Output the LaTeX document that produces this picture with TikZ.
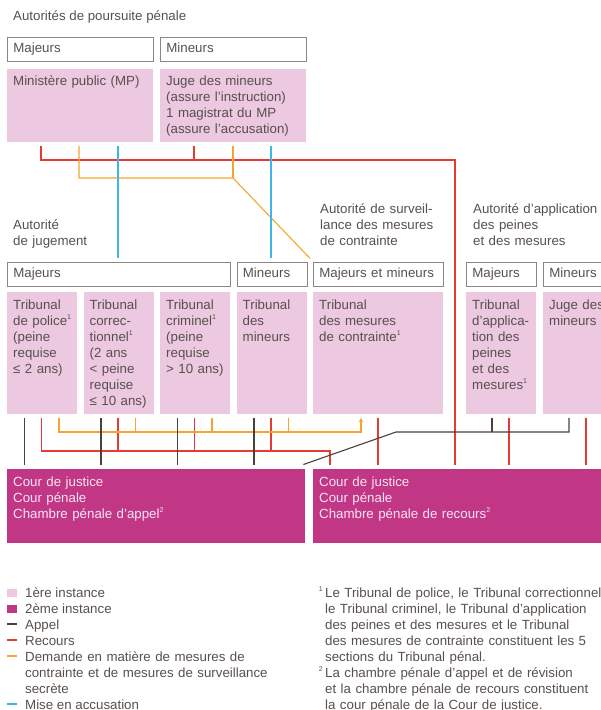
\documentclass[tikz,border=0pt]{standalone}
\usepackage{fontspec}
\setmainfont{Liberation Sans}
\usetikzlibrary{arrows.meta}

\definecolor{txtgrey}{RGB}{88,80,76}
\definecolor{boxgrey}{RGB}{140,134,130}
\definecolor{pinklight}{RGB}{237,200,225}
\definecolor{pinkdark}{RGB}{193,55,134}
\definecolor{pinktxt}{RGB}{250,228,242}
\definecolor{appelc}{RGB}{75,65,58}
\definecolor{recoursc}{RGB}{230,58,52}
\definecolor{demandec}{RGB}{245,165,45}
\definecolor{accusc}{RGB}{62,182,230}

\newcommand{\fnmark}[1]{\textsuperscript{\fontsize{7}{7}\selectfont #1}}

\begin{document}
\begin{tikzpicture}[x=1pt, y=-1pt,
    every node/.style={font=\fontsize{13.3}{16}\selectfont, text=txtgrey,
      inner sep=0pt, anchor=north west, text height=11pt, align=left},
    hdr/.style={draw=boxgrey, line width=0.8pt, inner xsep=6pt,
      inner ysep=5pt, text depth=3pt, text width=#1},
    inst1/.style={fill=pinklight, inner xsep=6pt, inner ysep=6pt, text width=#1},
    inst2/.style={fill=pinkdark, text=pinktxt, inner xsep=6pt, inner ysep=6pt,
      text width=#1, text depth=50.5pt},
    appel/.style={draw=appelc, line width=1.1pt},
    recours/.style={draw=recoursc, line width=1.1pt},
    demande/.style={draw=demandec, line width=1.1pt},
    accus/.style={draw=accusc, line width=1.2pt}
  ]
  \useasboundingbox (0,0) rectangle (601,710);
  \clip (0,0) rectangle (601,710);

  % autorites de poursuite
  \node (tPours) at (13,9.5) {Autorités de poursuite pénale};
  \node[hdr=134pt] (pMaj) at (7,36.5) {Majeurs};
  \node[hdr=134pt] (pMin) at (160,36.5) {Mineurs};
  \node[inst1=134pt, text depth=50.5pt] (mp) at (7,68.3) {Ministère public (MP)};
  \node[inst1=134pt, text depth=50.5pt] (jm) at (160,68.3)
    {Juge des mineurs\\(assure l'instruction)\\1 magistrat du MP\\(assure l'accusation)};

  % autorites de jugement, surveillance, application
  \node[text width=120pt] (tJug) at (13,218.5) {Autorité\\de jugement};
  \node[text width=130pt] (tSurv) at (320,202) {Autorité de surveil-\\lance des mesures\\de contrainte};
  \node[text width=140pt] (tAppl) at (473,202) {Autorité d'application\\des peines\\et des mesures};

  \node[hdr=211pt] (jMaj) at (7,261.5) {Majeurs};
  \node[hdr=58pt] (jMin) at (236.5,261.5) {Mineurs};
  \node[hdr=118pt] (sMM) at (313,261.5) {Majeurs et mineurs};
  \node[hdr=58pt] (aMaj) at (466,261.5) {Majeurs};
  \node[hdr=58pt] (aMin) at (543,261.5) {Mineurs};

  \node[inst1=58pt, text depth=98.5pt] (tpol) at (7,292)
    {Tribunal\\de~police\fnmark{1}\\(peine\\requise\\≤ 2 ans)};
  \node[inst1=58pt, text depth=98.5pt] (tcor) at (83.5,292)
    {Tribunal\\correc-\\tionnel\fnmark{1}\\(2 ans\\< peine\\requise\\≤ 10 ans)};
  \node[inst1=58pt, text depth=98.5pt] (tcrim) at (160,292)
    {Tribunal\\criminel\fnmark{1}\\(peine\\requise\\> 10 ans)};
  \node[inst1=58pt, text depth=98.5pt] (tmin) at (236.5,292)
    {Tribunal\\des\\mineurs};
  \node[inst1=118pt, text depth=98.5pt] (tmc) at (313,292)
    {Tribunal\\des mesures\\de contrainte\fnmark{1}};
  \node[inst1=58pt, text depth=98.5pt] (tapem) at (466,292)
    {Tribunal\\d'applica-\\tion des\\peines\\et des\\mesures\fnmark{1}};
  \node[inst1=58pt, text depth=98.5pt] (jmin2) at (543,292)
    {Juge~des\\mineurs};

  % 2eme instance
  \node[inst2=286pt] (cpa) at (7,469)
    {Cour de justice\\Cour pénale\\Chambre pénale d'appel\fnmark{2}};
  \node[inst2=300pt] (cpr) at (313,469)
    {Cour de justice\\Cour pénale\\Chambre pénale de recours\fnmark{2}};

  % connecteurs du haut
  \coordinate (rTop) at (455,160);
  \coordinate (oTop) at (233,178);
  \draw[recours, shorten <=4pt, shorten >=4pt] ([xshift=34pt]mp.south west) |- (rTop) -- (rTop |- cpr.north);
  \draw[recours, shorten <=4pt] ([xshift=34pt]jm.south west) -- ([xshift=34pt]jm.south west |- rTop);
  \draw[demande, shorten <=4pt, shorten >=4pt] ([xshift=72pt]mp.south west) |- (oTop) -- (sMM.north west);
  \draw[demande, shorten <=4pt] (oTop |- jm.south) -- (oTop);
  \draw[accus, shorten <=4pt, shorten >=4pt] ([xshift=111pt]mp.south west) -- ([xshift=111pt]mp.south west |- jMaj.north);
  \draw[accus, shorten <=4pt, shorten >=4pt] ([xshift=111pt]jm.south west) -- ([xshift=111pt]jm.south west |- jMin.north);

  % connecteurs du bas
  \coordinate (oBot) at (361,432);
  \coordinate (rBot) at (330,451);
  \coordinate (aBend) at (396,432);
  \draw[recours, shorten <=4pt, shorten >=4pt] ([xshift=34.5pt]tpol.south west) |- (rBot) -- (rBot |- cpr.north);
  \foreach \t in {tcor,tcrim,tmin}
    \draw[recours, shorten <=4pt] ([xshift=34.5pt]\t.south west) -- ([xshift=34.5pt]\t.south west |- rBot);
  \draw[demande, shorten <=4pt, shorten >=4pt, -{Triangle[length=4pt,width=4pt]}]
    ([xshift=52pt]tpol.south west) |- (oBot) -- (oBot |- tmc.south);
  \foreach \t in {tcor,tcrim,tmin}
    \draw[demande, shorten <=4pt] ([xshift=52pt]\t.south west) -- ([xshift=52pt]\t.south west |- oBot);
  \foreach \t in {tpol,tcor,tcrim,tmin}
    \draw[appel, shorten <=4pt, shorten >=4pt] ([xshift=17.5pt]\t.south west) -- ([xshift=17.5pt]\t.south west |- cpa.north);
  \draw[recours, shorten <=4pt, shorten >=4pt] ([xshift=65pt]tmc.south west) -- ([xshift=65pt]tmc.south west |- cpr.north);
  \draw[recours, shorten <=4pt, shorten >=4pt] ([xshift=43pt]tapem.south west) -- ([xshift=43pt]tapem.south west |- cpr.north);
  \draw[recours, shorten <=4pt, shorten >=4pt] ([xshift=43pt]jmin2.south west) -- ([xshift=43pt]jmin2.south west |- cpr.north);
  \draw[appel, shorten <=4pt] ([xshift=26pt]tapem.south west) -- ([xshift=26pt]tapem.south west |- aBend);
  \draw[appel, shorten <=4pt] ([xshift=26pt]jmin2.south west) |- (aBend) -- ([xshift=-2pt,yshift=4.5pt]cpa.north east);

  % legende
  \fill[pinklight] (7,588.5) rectangle (17,597);
  \fill[pinkdark] (7,604.5) rectangle (17,613);
  \draw[appel] (7,624) -- (17,624);
  \draw[recours] (7,640) -- (17,640);
  \draw[demande] (7,656) -- (17,656);
  \draw[accus] (7,704) -- (17,704);
  \node (leg1) at (25,586) {1ère instance};
  \node (leg2) at (25,602) {2ème instance};
  \node (leg3) at (25,618) {Appel};
  \node (leg4) at (25,634) {Recours};
  \node[text width=280pt] (leg5) at (25,650)
    {Demande en matière de mesures de\\contrainte et de mesures de surveillance\\secrète};
  \node (leg6) at (25,698) {Mise en accusation};

  % notes
  \node[text width=290pt] (fn1) at (325,586)
    {\llap{\fnmark{1}\hspace{2pt}}Le Tribunal de police, le Tribunal correctionnel,\\
     le Tribunal criminel, le Tribunal d'application\\
     des peines et des mesures et le Tribunal\\
     des mesures de contrainte constituent les 5\\
     sections du Tribunal pénal.};
  \node[text width=290pt] (fn2) at (325,666)
    {\llap{\fnmark{2}\hspace{2pt}}La chambre pénale d'appel et de révision\\
     et la chambre pénale de recours constituent\\
     la cour pénale de la Cour de justice.};
\end{tikzpicture}
\end{document}
